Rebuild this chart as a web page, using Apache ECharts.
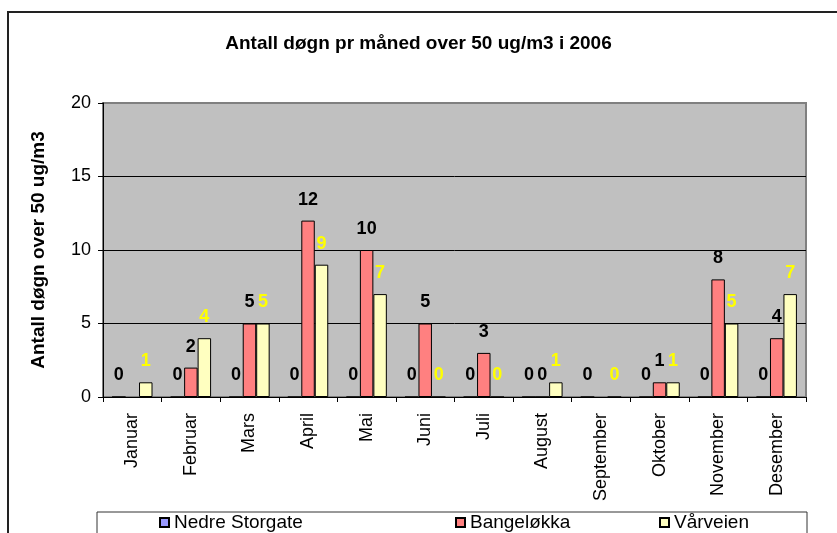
<!DOCTYPE html>
<html>
<head>
<meta charset="utf-8">
<script src="https://cdn.jsdelivr.net/npm/echarts@6/dist/echarts.min.js"></script>
<style>
  html, body { margin: 0; padding: 0; background: #fff; }
  #chart { width: 837px; height: 533px; }
</style>
</head>
<body>
<div id="chart"></div>
<script>
    var months = ['Januar', 'Februar', 'Mars', 'April', 'Mai', 'Juni', 'Juli', 'August', 'September', 'Oktober', 'November', 'Desember'];
    var nedreStorgate = [0, 0, 0, 0, 0, 0, 0, 0, 0, 0, 0, 0];
    var bangelokka = [null, 2, 5, 12, 10, 5, 3, 0, null, 1, 8, 4];
    var varveien = [1, 4, 5, 9, 7, 0, 0, 1, 0, 1, 5, 7];
    var yTicks = [0, 5, 10, 15, 20];

    var font = 'Liberation Sans, Arial, sans-serif';

    function barSeries(name, data, color, labelColor) {
        return {
            name: name,
            type: 'bar',
            data: data,
            barGap: 0,
            barCategoryGap: '31%',
            itemStyle: { color: color, borderColor: '#000', borderWidth: 1 },
            label: {
                show: true,
                position: 'top',
                distance: 12,
                color: labelColor,
                fontFamily: font,
                fontWeight: 'bold',
                fontSize: 18
            }
        };
    }

    function legendAt(name, left) {
        return {
            data: [name],
            left: left,
            top: 513,
            icon: 'rect',
            itemWidth: 9,
            itemHeight: 9,
            itemGap: 6,
            padding: 0,
            textStyle: { color: '#000', fontFamily: font, fontSize: 19 }
        };
    }

    var myChart = echarts.init(document.getElementById('chart'));
    myChart.setOption({
        backgroundColor: '#fff',
        animation: false,
        title: {
            text: 'Antall døgn pr måned over 50 ug/m3 i 2006',
            left: 'center',
            top: 29,
            textStyle: { color: '#000', fontFamily: font, fontWeight: 'bold', fontSize: 19 }
        },
        graphic: [
            { type: 'rect', shape: { x: 8, y: 12, width: 840, height: 540 }, style: { fill: null, stroke: '#222', lineWidth: 2 } },
            { type: 'rect', shape: { x: 97, y: 512, width: 710, height: 40 }, style: { fill: '#fff', stroke: '#333', lineWidth: 1 }, z: -1 }
        ],
        legend: [
            legendAt('Nedre Storgate', 159),
            legendAt('Bangeløkka', 455),
            legendAt('Vårveien', 659)
        ],
        grid: {
            left: 103,
            right: 31,
            top: 103,
            bottom: 136,
            show: true,
            backgroundColor: '#c0c0c0',
            borderColor: '#808080',
            borderWidth: 2
        },
        xAxis: {
            type: 'category',
            data: months,
            axisLine: { lineStyle: { color: '#000', width: 1 } },
            axisTick: { show: true, length: 5, lineStyle: { color: '#000' } },
            axisLabel: { rotate: 90, margin: 16, color: '#000', fontFamily: font, fontSize: 18 }
        },
        yAxis: {
            type: 'value',
            min: yTicks[0],
            max: yTicks[yTicks.length - 1],
            interval: 5,
            name: 'Antall døgn over 50 ug/m3',
            nameLocation: 'middle',
            nameRotate: 90,
            nameGap: 55,
            nameTextStyle: { color: '#000', fontFamily: font, fontWeight: 'bold', fontSize: 19 },
            axisLine: { show: true, lineStyle: { color: '#000', width: 1 } },
            axisTick: { show: true, length: 5, lineStyle: { color: '#000' } },
            axisLabel: { margin: 12, color: '#000', fontFamily: font, fontSize: 18 },
            splitLine: { show: true, lineStyle: { color: ['#000', '#000', '#000', '#000', '#808080'], width: 1 } }
        },
        series: [
            barSeries('Nedre Storgate', nedreStorgate, '#9999ff', '#000'),
            barSeries('Bangeløkka', bangelokka, '#ff8080', '#000'),
            barSeries('Vårveien', varveien, '#ffffc0', '#ffff00')
        ]
    });
</script>
</body>
</html>
